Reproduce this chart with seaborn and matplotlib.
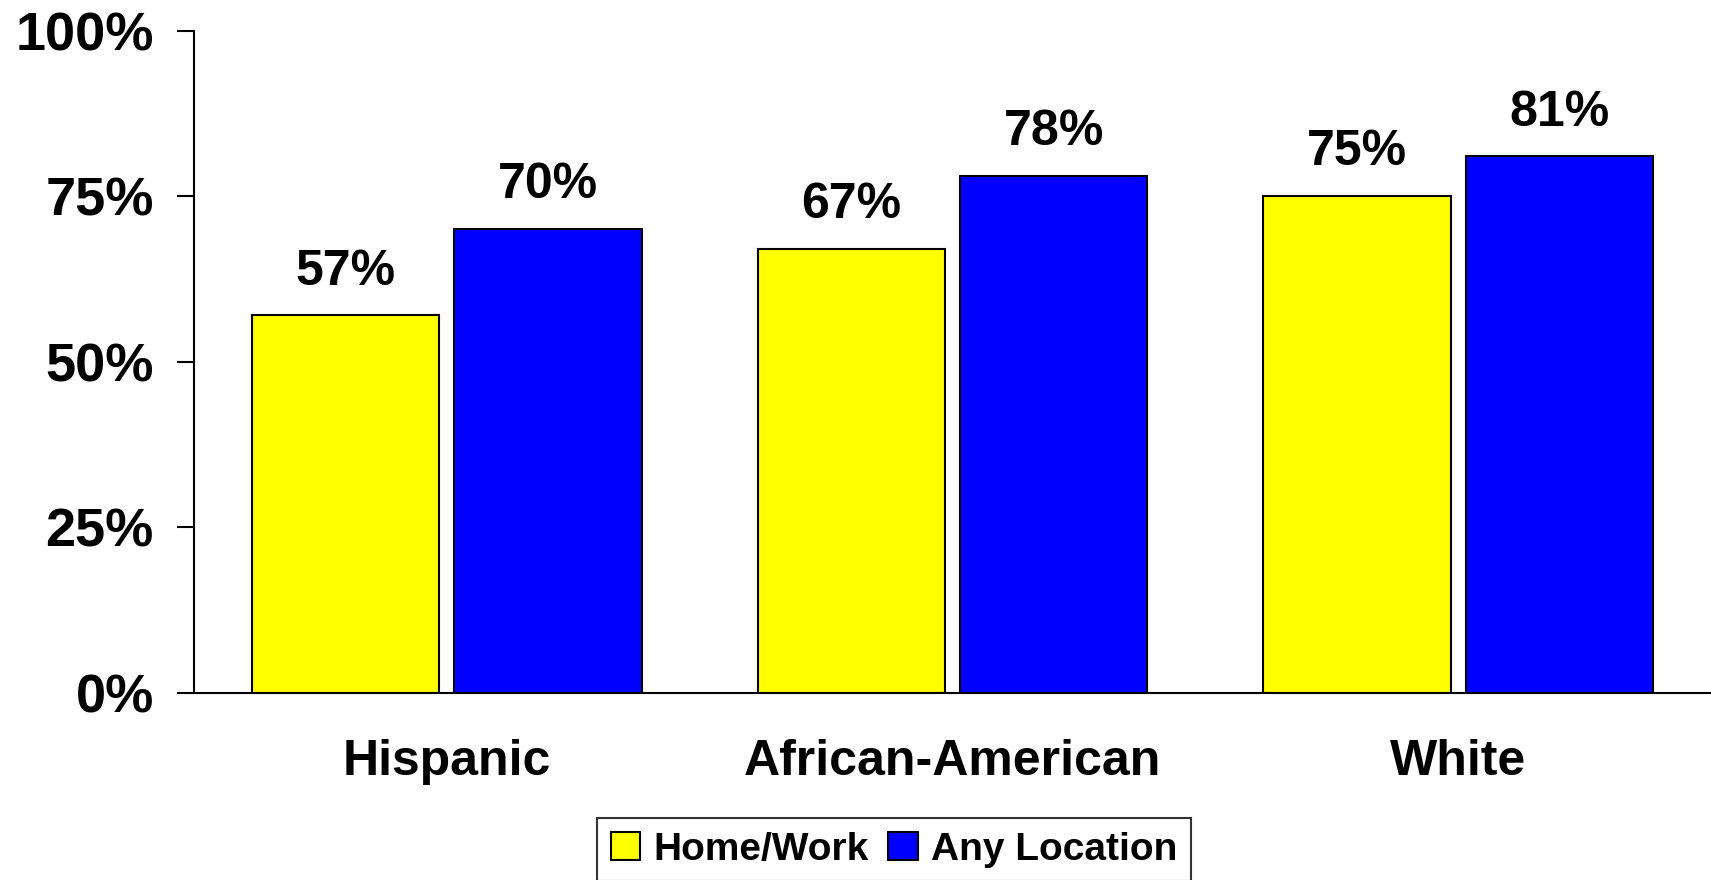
import matplotlib
matplotlib.use("Agg")
import matplotlib.pyplot as plt
import pandas as pd
import seaborn as sns

# values
groups = ["Hispanic", "African-American", "White"]
home_work = [57, 67, 75]
any_location = [70, 78, 81]
series_names = ["Home/Work", "Any Location"]
ytick_vals = [0, 25, 50, 75, 100]

df = pd.DataFrame({
    "group": groups * 2,
    "series": [series_names[0]] * 3 + [series_names[1]] * 3,
    "pct": home_work + any_location,
})

sns.set_theme(style="white")
plt.rcParams["font.family"] = ["Liberation Sans", "DejaVu Sans"]
plt.rcParams["font.weight"] = "bold"
plt.rcParams["text.color"] = "black"
plt.rcParams["xtick.color"] = "black"
plt.rcParams["ytick.color"] = "black"

fig = plt.figure(figsize=(17.11, 8.8), dpi=100)
ax = fig.add_axes([0.1134, 0.2125, 0.8866, 0.7528])

sns.barplot(data=df, x="group", y="pct", hue="series", order=groups,
            hue_order=series_names, palette=["#FFFF00", "#0000FF"],
            width=0.8, gap=0.075, edgecolor="black", linewidth=1.5,
            saturation=1, errorbar=None, ax=ax)

# value labels above each bar
for cont in ax.containers:
    ax.bar_label(cont, labels=[f"{v:.0f}%" for v in cont.datavalues],
                 padding=15, fontsize=36, fontweight="bold", color="black")

ax.set_xlim(-0.5, 2.5)
ax.set_ylim(0, 100)
ax.set_yticks(ytick_vals)
ax.set_yticklabels([f"{v}%" for v in ytick_vals], fontsize=39, fontweight="bold")
ax.tick_params(axis="y", length=12, width=1.5, direction="out", pad=17, left=True,
               colors="black")
ax.tick_params(axis="x", length=0, pad=33, labelsize=36, colors="black")
for lab in ax.get_xticklabels():
    lab.set_fontweight("bold")
ax.set_xlabel("")
ax.set_ylabel("")

for side in ["top", "right"]:
    ax.spines[side].set_visible(False)
for side in ["left", "bottom"]:
    ax.spines[side].set_color("black")
    ax.spines[side].set_linewidth(1.5)

handles, labels = ax.get_legend_handles_labels()
ax.get_legend().remove()
leg = fig.legend(handles, labels, loc="upper left", bbox_to_anchor=(0.349, 0.0705),
                 ncol=2, fontsize=28, frameon=True, fancybox=False,
                 handlelength=0.75, handleheight=0.75, handletextpad=0.35,
                 columnspacing=0.5, borderpad=0.35, borderaxespad=0)
leg.get_frame().set_edgecolor("black")
leg.get_frame().set_linewidth(1.5)
for t in leg.get_texts():
    t.set_fontweight("bold")
    t.set_color("black")

fig.savefig("out.png", dpi=100)
